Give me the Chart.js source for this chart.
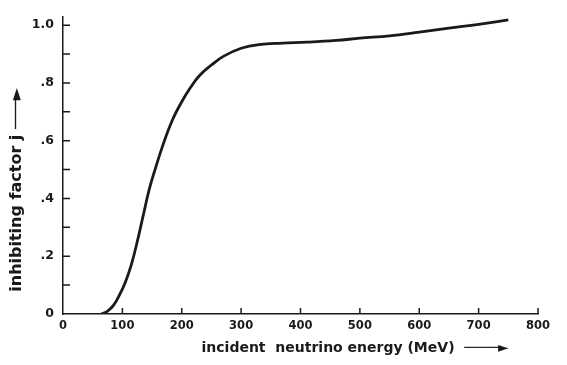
<!DOCTYPE html>
<html>
<head>
<meta charset="utf-8">
<script src="https://cdn.jsdelivr.net/npm/chart.js@4"></script>
<style>
  body { margin: 0; background: #fff; }
  canvas { display: block; }
</style>
</head>
<body>
<canvas id="jChart" width="567" height="365"></canvas>
<script>
// energy (MeV) and inhibiting factor j
const energy = [65, 75, 85, 95, 105, 115, 125, 135, 145, 155, 170, 185, 200, 215, 230, 250, 270, 300, 330, 370, 410, 460, 500, 550, 600, 650, 700, 750];
const factorJ = [0, 0.01, 0.03, 0.065, 0.11, 0.17, 0.25, 0.34, 0.43, 0.5, 0.595, 0.675, 0.735, 0.785, 0.826, 0.862, 0.892, 0.92, 0.933, 0.938, 0.941, 0.947, 0.955, 0.963, 0.976, 0.99, 1.003, 1.018];

const xTicks = [0, 100, 200, 300, 400, 500, 600, 700, 800];
const yTicks = [0, 0.1, 0.2, 0.3, 0.4, 0.5, 0.6, 0.7, 0.8, 0.9, 1.0];
const yTickLabels = {0: '0', 0.2: '.2', 0.4: '.4', 0.6: '.6', 0.8: '.8', 1: '1.0'};

const ink = '#1a1a1a';
const nb = '\u00a0';

// ticks in the old plot point into the plot area
const inwardTicks = {
  id: 'inwardTicks',
  afterDraw(chart) {
    const {ctx, chartArea, scales} = chart;
    ctx.save();
    ctx.strokeStyle = ink;
    ctx.lineWidth = 1.5;
    ctx.beginPath();
    xTicks.forEach(v => {
      if (v === 0) return;
      const px = scales.x.getPixelForValue(v);
      ctx.moveTo(px, chartArea.bottom);
      ctx.lineTo(px, chartArea.bottom - 6);
    });
    yTicks.forEach(v => {
      if (v === 0) return;
      const py = scales.y.getPixelForValue(v);
      ctx.moveTo(chartArea.left, py);
      ctx.lineTo(chartArea.left + 7, py);
    });
    ctx.stroke();
    ctx.restore();
  }
};

new Chart(document.getElementById('jChart'), {
  type: 'line',
  data: {
    datasets: [{
      data: energy.map((e, i) => ({x: e, y: factorJ[i]})),
      borderColor: ink,
      borderWidth: 2.8,
      pointRadius: 0,
      tension: 0.4,
      fill: false
    }]
  },
  options: {
    responsive: false,
    animation: false,
    layout: { padding: { left: 0, right: 29, top: 11, bottom: 0 } },
    plugins: { legend: { display: false }, tooltip: { enabled: false } },
    scales: {
      x: {
        type: 'linear',
        min: 0,
        max: 800,
        afterBuildTicks: s => { s.ticks = xTicks.map(v => ({value: v})); },
        afterFit: s => { s.height = 51; },
        grid: { display: false, drawTicks: false },
        border: { display: true, color: ink, width: 1.5 },
        ticks: {
          padding: 5,
          color: ink,
          maxRotation: 0,
          font: { family: 'DejaVu Sans', weight: 'bold', size: 11.5 }
        },
        title: {
          display: true,
          text: 'incident  neutrino energy (MeV)  \u2500\u2500\u2500\u2500\u25BA' + nb.repeat(6),
          align: 'end',
          color: ink,
          padding: { top: 0, bottom: 8 },
          font: { family: 'DejaVu Sans', weight: 'bold', size: 14 }
        }
      },
      y: {
        type: 'linear',
        min: 0,
        max: 1.03,
        afterBuildTicks: s => { s.ticks = yTicks.map(v => ({value: v})); },
        afterFit: s => { s.width = 63; },
        grid: { display: false, drawTicks: false },
        border: { display: true, color: ink, width: 1.5 },
        ticks: {
          padding: 9,
          color: ink,
          autoSkip: false,
          font: { family: 'DejaVu Sans', weight: 'bold', size: 12.5 },
          callback: v => yTickLabels[Math.round(v * 10) / 10] || ''
        },
        title: {
          display: true,
          text: nb.repeat(4) + 'inhibiting factor j \u2500\u2500\u2500\u25BA',
          align: 'start',
          color: ink,
          padding: { top: 7, bottom: 0 },
          font: { family: 'DejaVu Sans', weight: 'bold', size: 16 }
        }
      }
    }
  },
  plugins: [inwardTicks]
});
</script>
</body>
</html>
